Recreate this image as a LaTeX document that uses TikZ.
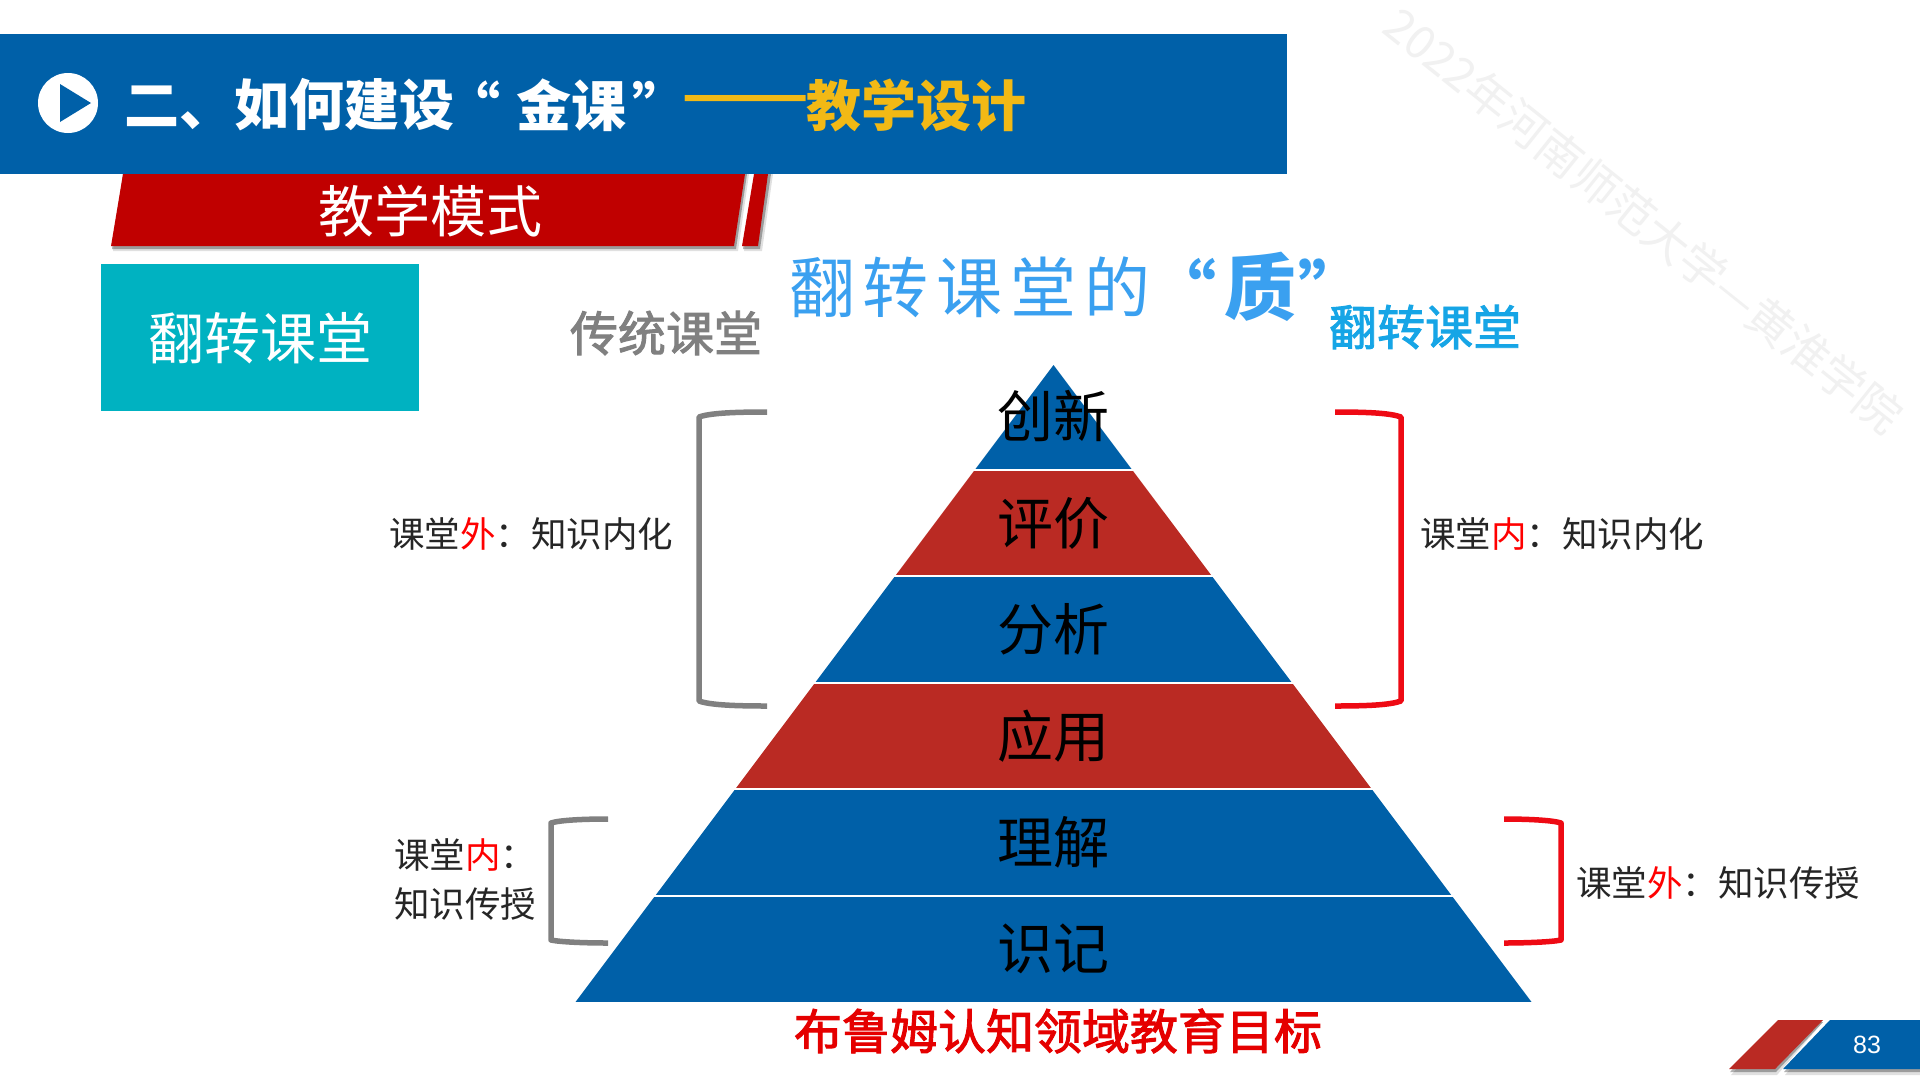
\documentclass[tikz,border=0pt]{standalone}
\usepackage{fontspec}
\newfontfamily\cjk{Noto Sans CJK SC}
\newfontfamily\cjkm[FakeBold=2]{Noto Sans CJK SC}
\newfontfamily\cjkls[LetterSpace=12]{Noto Sans CJK SC}
\newfontfamily\latinf{Liberation Sans}
\definecolor{hblue}{HTML}{0060A8}
\definecolor{bred}{HTML}{C00000}
\definecolor{pred}{HTML}{BA2A23}
\definecolor{teal1}{HTML}{00B2C1}
\definecolor{gold}{HTML}{F2B915}
\definecolor{sky}{HTML}{3AA0F0}
\definecolor{cyan1}{HTML}{16A5E6}
\definecolor{brk}{HTML}{808080}
\definecolor{rbrk}{HTML}{EE0A14}
\definecolor{wm}{HTML}{F1F1F1}
\tikzset{
  lbl/.style={inner sep=0pt,outer sep=0pt},
  pyr/.style={lbl,text=black,font=\cjk\fontsize{56}{60}\selectfont},
  side/.style={lbl,anchor=west,text=black!85,font=\cjk\fontsize{35.5}{40}\selectfont},
  gbrk/.style={draw=brk,line width=5.5pt,line join=round},
  rbrack/.style={draw=rbrk,line width=5.5pt,line join=round},
  head/.style={lbl,anchor=west,font=\cjk\bfseries\fontsize{55}{60}\selectfont},
  shada/.style={fill=black,opacity=0.30},
  shadb/.style={fill=black,opacity=0.12}
}
\begin{document}
\begin{tikzpicture}[x=1pt,y=-1pt]
\useasboundingbox (0,0) rectangle (1920,1080);
\fill[white] (0,0) rectangle (1920,1080);
% watermark
\node[lbl,text=wm,rotate=-38.7,font=\cjk\fontsize{45.8}{50}\selectfont] (wmark) at (1644,220) {2022年河南师范大学—黄淮学院};
% banner shadow + banner
\fill[shadb] (113,251) -- (738,251) -- (749,174) -- (123,174) -- cycle;
\fill[shada] (112,249) -- (736,249) -- (747,174) -- (123,174) -- cycle;
\fill[shadb] (744,251) -- (762,251) -- (773,174) -- (756,174) -- cycle;
\fill[shada] (743,249) -- (760,249) -- (771,174) -- (755,174) -- cycle;
\fill[bred] (123,174) -- (745,174) -- (734,246) -- (111,246) -- cycle;
\fill[bred] (754,174) -- (768,174) -- (758,246) -- (742,246) -- cycle;
% header
\fill[hblue] (0,34) rectangle (1287,174);
\fill[white] (68,103) circle (30);
\fill[hblue] (60,84) -- (91,103) -- (60,122) -- cycle;
\node[head,text=white] (h1) at (124,105) {二、如何建设};
\node[head,text=white] (h2a) at (445,105) {“};
\node[head,text=white] (h2) at (516,105) {金课};
\node[head,text=white] (h2b) at (632,105) {”};
\node[lbl,anchor=center,text=gold,xscale=1.36,font=\cjk\bfseries\fontsize{55}{60}\selectfont] (h3) at (746,105) {——};
\node[head,text=gold] (h4) at (806,105) {教学设计};
\node[lbl,text=white,font=\cjk\fontsize{56}{60}\selectfont] (mode) at (430,211) {教学模式};
% teal
\fill[teal1] (101,264) rectangle (419,411);
\node[lbl,text=white,font=\cjk\fontsize{56}{60}\selectfont] (flip) at (260,338) {翻转课堂};
% titles
\node[lbl,text=brk,font=\cjkm\fontsize{48}{50}\selectfont] (trad) at (666,333) {传统课堂};
\node[lbl,anchor=west,text=sky,font=\cjkls\fontsize{66}{70}\selectfont] (qual) at (789,287) {翻转课堂的};
\node[lbl,anchor=east,text=sky,font=\cjk\bfseries\fontsize{66}{72}\selectfont] (qa) at (1216,287) {“};
\node[lbl,text=sky,font=\cjk\bfseries\fontsize{72}{72}\selectfont] (qb) at (1260,287) {质};
\node[lbl,anchor=west,text=sky,font=\cjk\bfseries\fontsize{66}{72}\selectfont] (qc) at (1298,287) {”};
\node[lbl,text=cyan1,font=\cjkm\fontsize{48}{50}\selectfont] (flipr) at (1425,327) {翻转课堂};
% pyramid
\begin{scope}
\clip (1053.5,365) -- (1531.5,1002) -- (575.5,1002) -- cycle;
\fill[hblue] (500,365) rectangle (1600,469);
\fill[pred] (500,471) rectangle (1600,575);
\fill[hblue] (500,577) rectangle (1600,682);
\fill[pred] (500,684) rectangle (1600,788);
\fill[hblue] (500,790) rectangle (1600,895);
\fill[hblue] (500,897) rectangle (1600,1002);
\end{scope}
\node[pyr] (p1) at (1053,416) {创新};
\node[pyr] (p2) at (1053,523) {评价};
\node[pyr] (p3) at (1053,629) {分析};
\node[pyr] (p4) at (1053,736) {应用};
\node[pyr] (p5) at (1053,842) {理解};
\node[pyr] (p6) at (1053,949) {识记};
% brackets
\draw[gbrk] (767,412) .. controls (735,412) and (710,413) .. (699,417) -- (699,701) .. controls (710,705) and (735,706) .. (767,706);
\draw[rbrack] (1335,412) .. controls (1367,412) and (1390,413) .. (1401,417) -- (1401,701) .. controls (1390,705) and (1367,706) .. (1335,706);
\draw[gbrk] (608,819) .. controls (585,819) and (560,820) .. (551,823) -- (551,940) .. controls (560,942) and (585,943) .. (608,943);
\draw[rbrack] (1504,819) .. controls (1525,819) and (1552,820) .. (1561,823) -- (1561,940) .. controls (1552,942) and (1525,943) .. (1504,943);
% side labels
\node[side] (s1) at (389,534) {课堂\textcolor{red}{外}：知识内化};
\node[side] (s2) at (1420,534) {课堂\textcolor{red}{内}：知识内化};
\node[side] (s3) at (1576,883) {课堂\textcolor{red}{外}：知识传授};
\node[side] (s4) at (394,855) {课堂\textcolor{red}{内}：};
\node[side] (s5) at (394,904) {知识传授};
\node[lbl,text=red!90!black,font=\cjkm\fontsize{48}{50}\selectfont] (goal) at (1058,1031) {布鲁姆认知领域教育目标};
% footer
\fill[shadb] (1731,1075) -- (1777,1075) -- (1823,1022) -- (1778,1022) -- cycle;
\fill[shada] (1730,1072) -- (1776,1072) -- (1823,1022) -- (1778,1022) -- cycle;
\fill[shadb] (1785,1075) -- (1920,1075) -- (1920,1022) -- (1830,1022) -- cycle;
\fill[shada] (1784,1072) -- (1920,1072) -- (1920,1022) -- (1830,1022) -- cycle;
\fill[pred] (1778,1020) -- (1823,1020) -- (1775,1069) -- (1729,1069) -- cycle;
\fill[hblue] (1830,1020) -- (1920,1020) -- (1920,1069) -- (1783,1069) -- cycle;
\node[lbl,text=white,font=\latinf\fontsize{25}{28}\selectfont] (num) at (1867,1045) {83};
\end{tikzpicture}
\end{document}
